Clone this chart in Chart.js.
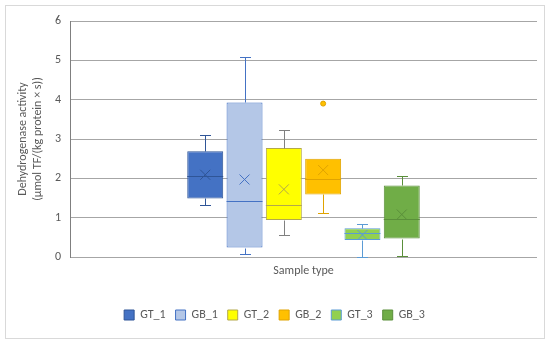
<!DOCTYPE html>
<html>
<head>
<meta charset="utf-8">
<script src="https://cdn.jsdelivr.net/npm/chart.js@4/dist/chart.umd.min.js"></script>
<style>
  html, body { margin: 0; padding: 0; background: #ffffff; }
  #wrap { width: 550px; height: 344px; position: relative; }
</style>
</head>
<body>
<div id="wrap"><canvas id="c" width="550" height="344"></canvas></div>
<script>
// ---- data ----
const categories = ['GT_1', 'GB_1', 'GT_2', 'GB_2', 'GT_3', 'GB_3'];
const minValues    = [1.31, 0.08, 0.56, 1.11, 0.00, 0.03];
const q1Values     = [1.49, 0.24, 0.94, 1.59, 0.43, 0.47];
const medianValues = [2.07, 1.43, 1.32, 1.98, 0.62, 0.96];
const q3Values     = [2.69, 3.93, 2.77, 2.50, 0.73, 1.82];
const maxValues    = [3.10, 5.08, 3.24, 2.50, 0.83, 2.05];
const meanValues   = [2.09, 1.97, 1.72, 2.21, 0.56, 1.08];
const outlierValues = [[], [], [], [3.90], [], []];
const yTicks = [0, 1, 2, 3, 4, 5, 6];

// ---- styles ----
const fillColors   = ['#4472C4', '#B4C7E7', '#FFFF00', '#FFC000', '#92D050', '#70AD47'];
const borderColors = ['#2F5597', '#4472C4', '#B3A84A', '#E0A300', '#5B9BD5', '#5A8F3A'];
const whiskerColors = ['#2F5597', '#4472C4', '#808080', '#E0A300', '#5B9BD5', '#5A8F3A'];
const FONT = 'Carlito, Calibri, Lato, "Open Sans", sans-serif';
const TEXT = '#595959';

const datasets = categories.map((name, i) => ({
  label: name,
  data: [[q1Values[i], q3Values[i]]],
  backgroundColor: fillColors[i],
  borderColor: borderColors[i],
  borderWidth: 1,
  borderSkipped: false,
  categoryPercentage: 0.505,
  barPercentage: 0.915
}));

const boxExtras = {
  id: 'boxExtras',
  beforeDraw(chart) {
    const ctx = chart.ctx;
    ctx.save();
    ctx.fillStyle = '#ffffff';
    ctx.fillRect(0, 0, chart.width, chart.height);
    ctx.strokeStyle = '#d9d9d9';
    ctx.lineWidth = 1;
    ctx.strokeRect(5.5, 5.5, 539, 333);
    ctx.restore();
  },
  afterDatasetsDraw(chart) {
    const ctx = chart.ctx;
    const ys = chart.scales.y;
    ctx.save();
    chart.data.datasets.forEach((ds, i) => {
      const bar = chart.getDatasetMeta(i).data[0];
      const cx = Math.round(bar.x) + 0.5;
      const half = bar.width / 2;
      const cap = 5.5;
      const py = v => Math.round(ys.getPixelForValue(v)) + 0.5;
      ctx.lineWidth = 1;
      // whiskers
      ctx.strokeStyle = whiskerColors[i];
      ctx.beginPath();
      if (maxValues[i] > q3Values[i]) {
        ctx.moveTo(cx, py(q3Values[i])); ctx.lineTo(cx, py(maxValues[i]));
        ctx.moveTo(cx - cap, py(maxValues[i])); ctx.lineTo(cx + cap, py(maxValues[i]));
      }
      if (minValues[i] < q1Values[i]) {
        ctx.moveTo(cx, py(q1Values[i])); ctx.lineTo(cx, py(minValues[i]));
        ctx.moveTo(cx - cap, py(minValues[i])); ctx.lineTo(cx + cap, py(minValues[i]));
      }
      ctx.stroke();
      // median
      ctx.strokeStyle = borderColors[i];
      ctx.beginPath();
      ctx.moveTo(bar.x - half, py(medianValues[i]));
      ctx.lineTo(bar.x + half, py(medianValues[i]));
      ctx.stroke();
      // mean X
      const my = ys.getPixelForValue(meanValues[i]);
      const s = 5;
      ctx.strokeStyle = borderColors[i];
      ctx.beginPath();
      ctx.moveTo(bar.x - s, my - s); ctx.lineTo(bar.x + s, my + s);
      ctx.moveTo(bar.x - s, my + s); ctx.lineTo(bar.x + s, my - s);
      ctx.stroke();
      // outliers
      outlierValues[i].forEach(v => {
        ctx.fillStyle = fillColors[i];
        ctx.strokeStyle = borderColors[i];
        ctx.beginPath();
        ctx.arc(bar.x, ys.getPixelForValue(v), 2.5, 0, Math.PI * 2);
        ctx.fill();
        ctx.stroke();
      });
    });
    ctx.restore();
  }
};

new Chart(document.getElementById('c'), {
  type: 'bar',
  data: { labels: [''], datasets },
  options: {
    responsive: false,
    animation: false,
    events: [],
    layout: { padding: { left: 12, right: 13, top: 21, bottom: 13 } },
    plugins: {
      tooltip: { enabled: false },
      legend: {
        position: 'bottom',
        labels: {
          boxWidth: 10, boxHeight: 10, padding: 10,
          color: TEXT,
          font: { family: FONT, size: 12 }
        }
      }
    },
    scales: {
      x: {
        grid: { display: false },
        border: { display: false },
        ticks: { display: false },
        title: {
          display: true, text: 'Sample type', color: TEXT,
          font: { family: FONT, size: 12 },
          padding: { top: 4, bottom: 21 }
        },
        afterFit(scale) { scale.height = 42; }
      },
      y: {
        min: 0, max: 6,
        afterBuildTicks(scale) { scale.ticks = yTicks.map(v => ({ value: v })); },
        grid: { color: '#a6a6a6', drawTicks: false },
        border: { display: true, color: '#7f7f7f' },
        ticks: { padding: 9, color: TEXT, font: { family: FONT, size: 12 } },
        title: {
          display: true,
          text: ['Dehydrogenase activity', '(µmol TF/(kg protein × s))'],
          color: TEXT,
          font: { family: FONT, size: 12 },
          padding: { top: 4, bottom: 4 }
        },
        afterFit(scale) { scale.width = 58; }
      }
    }
  },
  plugins: [boxExtras]
});
</script>
</body>
</html>
